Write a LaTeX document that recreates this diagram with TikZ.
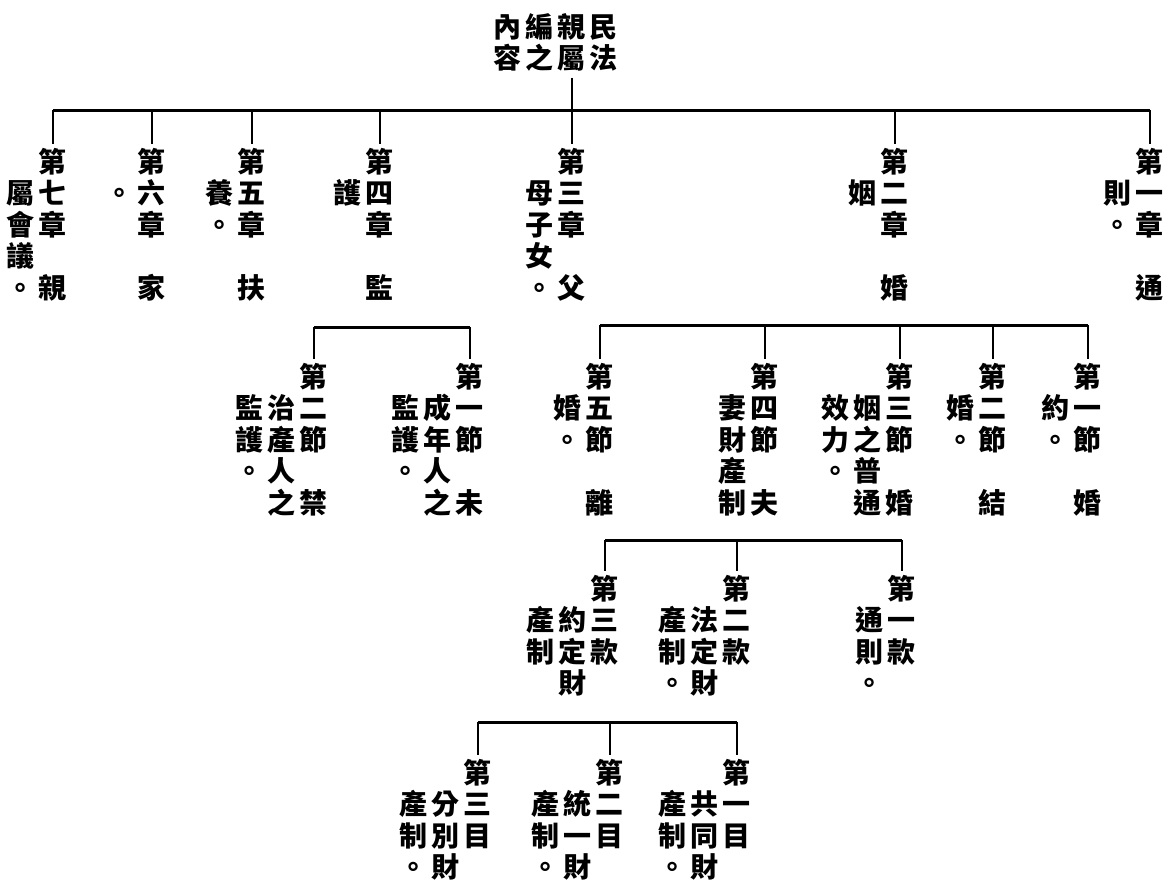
\documentclass[tikz,border=0pt]{standalone}
\usepackage{fontspec}
\newfontfamily\cjk{Noto Sans CJK TC}
\newcommand{\zi}[1]{\makebox[32pt]{#1}}
\tikzset{
  zh/.style={inner sep=0pt, anchor=north east, align=right,
    font=\cjk\bfseries\fontsize{28}{31.5}\selectfont},
  bar/.style={line width=3pt},
  drop/.style={line width=2.2pt}
}
\begin{document}
\begin{tikzpicture}[x=1pt,y=-1pt]
  \useasboundingbox (0,0) rectangle (1173,887);
  \draw
    (620,13) node[zh] (t) {\zi{內}\zi{編}\zi{親}\zi{民}\\\zi{容}\zi{之}\zi{屬}\zi{法}}
    (69,148) node[zh] (c7) {\zi{第}\\\zi{屬}\zi{七}\\\zi{會}\zi{章}\\\zi{議}\zi{}\\\zi{。}\zi{親}}
    (168,148) node[zh] (c6) {\zi{第}\\\zi{。}\zi{六}\\\zi{章}\\\zi{}\\\zi{家}}
    (268,148) node[zh] (c5) {\zi{第}\\\zi{養}\zi{五}\\\zi{。}\zi{章}\\\zi{}\\\zi{扶}}
    (396,148) node[zh] (c4) {\zi{第}\\\zi{護}\zi{四}\\\zi{章}\\\zi{}\\\zi{監}}
    (588,148) node[zh] (c3) {\zi{第}\\\zi{母}\zi{三}\\\zi{子}\zi{章}\\\zi{女}\zi{}\\\zi{。}\zi{父}}
    (911,148) node[zh] (c2) {\zi{第}\\\zi{姻}\zi{二}\\\zi{章}\\\zi{}\\\zi{婚}}
    (1166,148) node[zh] (c1) {\zi{第}\\\zi{則}\zi{一}\\\zi{。}\zi{章}\\\zi{}\\\zi{通}}
    (330,363) node[zh] (s42) {\zi{第}\\\zi{監}\zi{治}\zi{二}\\\zi{護}\zi{產}\zi{節}\\\zi{。}\zi{人}\zi{}\\\zi{之}\zi{禁}}
    (486,363) node[zh] (s41) {\zi{第}\\\zi{監}\zi{成}\zi{一}\\\zi{護}\zi{年}\zi{節}\\\zi{。}\zi{人}\zi{}\\\zi{之}\zi{未}}
    (616,363) node[zh] (s25) {\zi{第}\\\zi{婚}\zi{五}\\\zi{。}\zi{節}\\\zi{}\\\zi{離}}
    (781,363) node[zh] (s24) {\zi{第}\\\zi{妻}\zi{四}\\\zi{財}\zi{節}\\\zi{產}\zi{}\\\zi{制}\zi{夫}}
    (916,363) node[zh] (s23) {\zi{第}\\\zi{效}\zi{姻}\zi{三}\\\zi{力}\zi{之}\zi{節}\\\zi{。}\zi{普}\zi{}\\\zi{通}\zi{婚}}
    (1009,363) node[zh] (s22) {\zi{第}\\\zi{婚}\zi{二}\\\zi{。}\zi{節}\\\zi{}\\\zi{結}}
    (1104,363) node[zh] (s21) {\zi{第}\\\zi{約}\zi{一}\\\zi{。}\zi{節}\\\zi{}\\\zi{婚}}
    (621,575) node[zh] (k3) {\zi{第}\\\zi{產}\zi{約}\zi{三}\\\zi{制}\zi{定}\zi{款}\\\zi{財}\zi{}}
    (753,575) node[zh] (k2) {\zi{第}\\\zi{產}\zi{法}\zi{二}\\\zi{制}\zi{定}\zi{款}\\\zi{。}\zi{財}\zi{}}
    (918,575) node[zh] (k1) {\zi{第}\\\zi{通}\zi{一}\\\zi{則}\zi{款}\\\zi{。}\zi{}}
    (494,759) node[zh] (m3) {\zi{第}\\\zi{產}\zi{分}\zi{三}\\\zi{制}\zi{別}\zi{目}\\\zi{。}\zi{財}\zi{}}
    (626,759) node[zh] (m2) {\zi{第}\\\zi{產}\zi{統}\zi{二}\\\zi{制}\zi{一}\zi{目}\\\zi{。}\zi{財}\zi{}}
    (753,759) node[zh] (m1) {\zi{第}\\\zi{產}\zi{共}\zi{一}\\\zi{制}\zi{同}\zi{目}\\\zi{。}\zi{財}\zi{}};
  \path
    (53,110) coordinate (j7) (152,110) coordinate (j6) (252,110) coordinate (j5)
    (380,110) coordinate (j4) (572,110) coordinate (j3) (895,110) coordinate (j2)
    (1150,110) coordinate (j1)
    (314,327) coordinate (g42) (470,327) coordinate (g41)
    (600,325) coordinate (g25) (765,325) coordinate (g24) (900,325) coordinate (g23)
    (993,325) coordinate (g22) (1088,325) coordinate (g21)
    (605,540) coordinate (h3) (737,540) coordinate (h2) (902,540) coordinate (h1)
    (478,722) coordinate (i3) (610,722) coordinate (i2) (737,722) coordinate (i1);
  \begin{scope}[bar]
    \draw (j7) -- (j1);
    \draw (g42) -- (g41);
    \draw (g25) -- (g21);
    \draw (h3) -- (h1);
    \draw (i3) -- (i1);
  \end{scope}
  \begin{scope}[drop]
    \draw ([shift={(-48,6)}]t.south east) -- (j3);
    \draw (j7) -- ([shift={(-16,-4)}]c7.north east);
    \draw (j6) -- ([shift={(-16,-4)}]c6.north east);
    \draw (j5) -- ([shift={(-16,-4)}]c5.north east);
    \draw (j4) -- ([shift={(-16,-4)}]c4.north east);
    \draw (j3) -- ([shift={(-16,-4)}]c3.north east);
    \draw (j2) -- ([shift={(-16,-4)}]c2.north east);
    \draw (j1) -- ([shift={(-16,-4)}]c1.north east);
    \draw (g42) -- ([shift={(-16,-4)}]s42.north east);
    \draw (g41) -- ([shift={(-16,-4)}]s41.north east);
    \draw (g25) -- ([shift={(-16,-4)}]s25.north east);
    \draw (g24) -- ([shift={(-16,-4)}]s24.north east);
    \draw (g23) -- ([shift={(-16,-4)}]s23.north east);
    \draw (g22) -- ([shift={(-16,-4)}]s22.north east);
    \draw (g21) -- ([shift={(-16,-4)}]s21.north east);
    \draw (h3) -- ([shift={(-16,-4)}]k3.north east);
    \draw (h2) -- ([shift={(-16,-4)}]k2.north east);
    \draw (h1) -- ([shift={(-16,-4)}]k1.north east);
    \draw (i3) -- ([shift={(-16,-4)}]m3.north east);
    \draw (i2) -- ([shift={(-16,-4)}]m2.north east);
    \draw (i1) -- ([shift={(-16,-4)}]m1.north east);
  \end{scope}
\end{tikzpicture}
\end{document}
